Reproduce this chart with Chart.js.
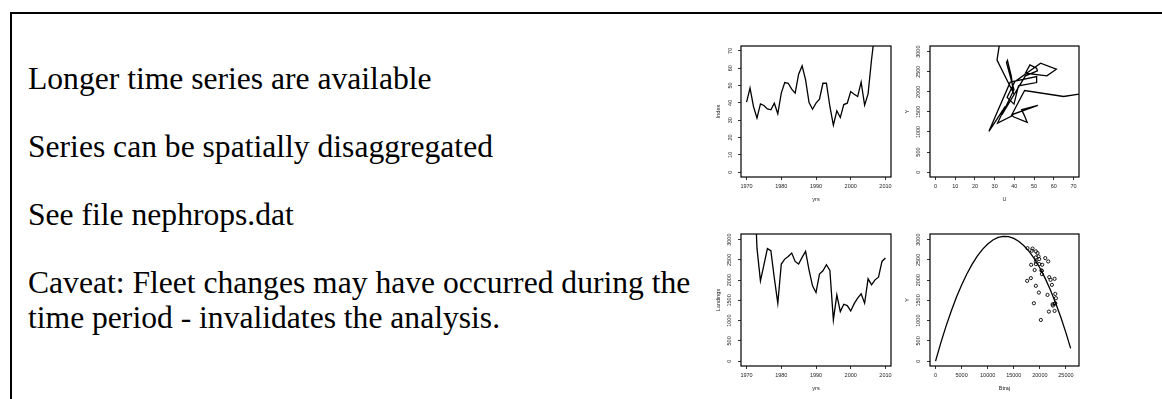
<!DOCTYPE html>
<html>
<head>
<meta charset="utf-8">
<script src="https://cdn.jsdelivr.net/npm/chart.js@4.4.1/dist/chart.umd.min.js"></script>
<style>
  body { margin: 0; width: 1162px; height: 399px; background: #fff; overflow: hidden; position: relative; }
  #frame { position: absolute; left: 10px; top: 12px; right: -4px; bottom: -4px; border-top: 2px solid #000; border-left: 2px solid #000; }
  .line { position: absolute; left: 28px; font-family: "Liberation Serif", "Times New Roman", serif; font-size: 31.6px; line-height: 31.6px; white-space: nowrap; color: #000; }
  canvas { position: absolute; }
</style>
</head>
<body>
<div id="frame"></div>
<div class="line" style="top:63px">Longer time series are available</div>
<div class="line" style="top:131px">Series can be spatially disaggregated</div>
<div class="line" style="top:199px">See file nephrops.dat</div>
<div class="line" style="top:267px">Caveat: Fleet changes may have occurred during the</div>
<div class="line" style="top:302px">time period - invalidates the analysis.</div>

<canvas id="p1" width="184" height="167" style="left:715px;top:36px"></canvas>
<canvas id="p2" width="183" height="167" style="left:904px;top:36px"></canvas>
<canvas id="p3" width="184" height="168" style="left:715px;top:224px"></canvas>
<canvas id="p4" width="183" height="168" style="left:904px;top:224px"></canvas>

<script>
// years 1970-2010
const years = [1970,1971,1972,1973,1974,1975,1976,1977,1978,1979,
               1980,1981,1982,1983,1984,1985,1986,1987,1988,1989,
               1990,1991,1992,1993,1994,1995,1996,1997,1998,1999,
               2000,2001,2002,2003,2004,2005,2006,2007,2008,2009,2010];

// survey index (U)
const index = [40.4,48.5,37.9,31.2,39.4,38.5,36.5,36.0,39.8,33.7,
               45.6,51.7,51.3,47.9,45.6,56.5,61.3,53.3,40.2,36.3,
               39.8,42.1,51.3,51.3,37.9,27.1,35.4,31.5,39.0,39.8,
               46.5,45.0,43.7,51.9,38.7,45.2,65.0,82.0,null,null,null];

// landings (Y)
const landings = [4500,4700,4900,2790,1983,2380,2780,2727,2050,1430,
                  2397,2520,2587,2669,2463,2397,2562,2711,2250,1860,
                  1694,2150,2230,2380,2240,1017,1636,1223,1405,1372,
                  1240,1420,1554,1661,1430,2033,1884,2008,2074,2463,2545];

// biomass trajectory (Btraj)
const btraj = [null,null,null,17630,17560,18330,18590,18460,18270,18850,
               19870,19870,19740,19550,19230,19230,19230,19230,19000,19230,
               19810,20380,20380,20450,20300,20190,21470,21730,22440,22500,
               22820,22820,23080,22950,22950,22820,22310,22050,21800,21600,21030];

// fitted production curve
const curveB = [0,1000,2000,3000,4000,5000,6000,7000,8000,9000,10000,11000,12000,13000,
                14000,15000,16000,17000,18000,19000,20000,21000,22000,23000,24000,25000,25900];
const curveY = [0,446,858,1234,1576,1882,2154,2391,2593,2761,2893,2991,3054,3081,
                3074,3033,2956,2844,2698,2517,2301,2050,1764,1443,1088,697,316];

// tick labels
const yearTicks = [1970,1980,1990,2000,2010];
const indexTicks = [0,10,20,30,40,50,60,70];
const uTicks = [0,10,20,30,40,50,60,70];
const yTicks = [0,500,1000,1500,2000,2500,3000];
const bTicks = [0,5000,10000,15000,20000,25000];

Chart.defaults.font.family = '"Liberation Sans", Arial, sans-serif';
Chart.defaults.font.size = 5.5;
Chart.defaults.color = '#222';

const boxPlugin = {
  id: 'box',
  afterDatasetsDraw(chart) {
    const {ctx, chartArea: a} = chart;
    ctx.save();
    ctx.strokeStyle = '#000';
    ctx.lineWidth = 1.2;
    ctx.strokeRect(a.left, a.top, a.right - a.left, a.bottom - a.top);
    ctx.restore();
  }
};

function axis(min, max, tickVals, title, isY, pad) {
  return {
    type: 'linear', min: min, max: max,
    afterFit(s) { if (isY) s.width = 26; else s.height = 26; },
    afterBuildTicks(s) { s.ticks = tickVals.map(v => ({value: v})); },
    ticks: {
      autoSkip: false, padding: pad,
      minRotation: isY ? 90 : 0, maxRotation: isY ? 90 : 0,
      crossAlign: isY ? 'center' : 'near',
      callback: v => String(v)
    },
    grid: { drawOnChartArea: false, drawTicks: true, tickLength: 3, color: '#000', lineWidth: 0.8 },
    border: { display: false },
    title: { display: true, text: title, padding: 0 }
  };
}

function lineSet(pts) {
  return { data: pts, showLine: true, borderColor: '#000', borderWidth: 1.3, pointRadius: 0, tension: 0, fill: false };
}

function panel(id, datasets, xs, ys) {
  return new Chart(document.getElementById(id), {
    type: 'scatter',
    data: { datasets: datasets },
    options: {
      responsive: false, animation: false, devicePixelRatio: 1,
      layout: { padding: { top: 10, right: 8, left: 0, bottom: 0 } },
      plugins: { legend: { display: false }, tooltip: { enabled: false } },
      scales: { x: xs, y: ys }
    },
    plugins: [boxPlugin]
  });
}

const idxPts = years.map((x, i) => ({x: x, y: index[i]}));
const uyPts = [];
index.forEach((u, i) => { if (u !== null) uyPts.push({x: u, y: landings[i]}); });
const landPts = years.map((x, i) => ({x: x, y: landings[i]}));
const byPts = [];
btraj.forEach((b, i) => { if (b !== null) byPts.push({x: b, y: landings[i]}); });
const curvePts = curveB.map((b, i) => ({x: b, y: curveY[i]}));

panel('p1', [lineSet(idxPts)],
  axis(1968.4, 2011.6, yearTicks, 'yrs', false, 3.4),
  axis(-2.8, 72.8, indexTicks, 'Index', true, 4.9));

panel('p2', [lineSet(uyPts)],
  axis(-2.8, 72.8, uTicks, 'U', false, 3.4),
  axis(-120, 3140, yTicks, 'Y', true, 1.9));

panel('p3', [lineSet(landPts)],
  axis(1968.4, 2011.6, yearTicks, 'yrs', false, 3.4),
  axis(-120, 3140, yTicks, 'Landings', true, 1.9));

panel('p4', [
    { data: byPts, showLine: false, pointRadius: 1.6, pointBorderWidth: 0.9,
      pointBorderColor: '#000', pointBackgroundColor: 'rgba(0,0,0,0)' },
    lineSet(curvePts)
  ],
  axis(-1060, 27500, bTicks, 'Btraj', false, 3.4),
  axis(-120, 3140, yTicks, 'Y', true, 1.9));
</script>
</body>
</html>
